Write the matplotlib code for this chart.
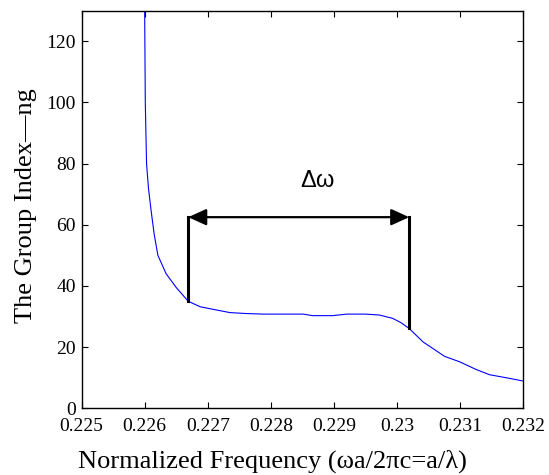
import numpy as np
import matplotlib
matplotlib.use("Agg")
import matplotlib.pyplot as plt

# group index curve
freq = [0.22600, 0.22601, 0.22603, 0.22606, 0.22610, 0.22615, 0.22621, 0.22634,
        0.22650, 0.22669, 0.22688, 0.22710, 0.22735, 0.22760, 0.22788, 0.22820,
        0.22851, 0.22866, 0.22898, 0.22920, 0.22950, 0.22972, 0.22993, 0.23006,
        0.23019, 0.23041, 0.23075, 0.23099, 0.23125, 0.23146, 0.23175, 0.23200]
ng = [130.0, 100.0, 80.0, 72.0, 65.0, 57.0, 50.0, 44.0,
      39.5, 35.0, 33.2, 32.3, 31.3, 31.0, 30.8, 30.8,
      30.8, 30.3, 30.3, 30.8, 30.8, 30.5, 29.4, 28.0,
      26.1, 21.7, 17.0, 15.2, 12.7, 11.0, 9.9, 8.9]

# bandwidth markers
band_lo, band_hi = 0.22669, 0.23019
band_lo_ng, band_hi_ng = 35.0, 26.1
arrow_y = 62.5

xticks = [0.225, 0.226, 0.227, 0.228, 0.229, 0.23, 0.231, 0.232]
xticklabels = ['0.225', '0.226', '0.227', '0.228', '0.229', '0.23', '0.231', '0.232']
yticks = [0, 20, 40, 60, 80, 100, 120]

plt.rcParams['font.family'] = ['Liberation Serif', 'DejaVu Serif']

fig = plt.figure(figsize=(5.49, 4.75), dpi=100)
ax = fig.add_axes([0.1485, 0.1404, 0.805, 0.837])

ax.plot(freq, ng, color='#0000ff', linewidth=0.8)

ax.plot([band_lo, band_lo], [band_lo_ng, arrow_y], color='black', linewidth=2.2)
ax.plot([band_hi, band_hi], [band_hi_ng, arrow_y], color='black', linewidth=2.2)
ax.annotate('', xy=(band_lo, arrow_y), xytext=(band_hi, arrow_y),
            arrowprops=dict(arrowstyle='<|-|>,head_length=0.55,head_width=0.25',
                            mutation_scale=20, color='black', linewidth=1.6,
                            shrinkA=0, shrinkB=0))
ax.text(0.22874, 74.3, 'Δω', ha='center', va='center',
        fontsize=17, family=['Liberation Sans', 'DejaVu Sans'])

ax.set_xlim(0.225, 0.232)
ax.set_ylim(0, 130)
ax.set_xticks(xticks)
ax.set_xticklabels(xticklabels)
ax.set_yticks(yticks)
ax.tick_params(direction='in', top=True, right=True, length=4, width=0.8,
               labelsize=14)
ax.tick_params(axis='x', pad=7)
ax.tick_params(axis='y', pad=4)
for s in ax.spines.values():
    s.set_linewidth(1.0)

ax.set_xlabel('Normalized Frequency (ωa/2πc=a/λ)', fontsize=19)
ax.set_ylabel('The Group Index—ng', fontsize=19)
ax.xaxis.set_label_coords(0.433, -0.105)
ax.yaxis.set_label_coords(-0.1, 0.511)

fig.savefig('out.png', dpi=100)
